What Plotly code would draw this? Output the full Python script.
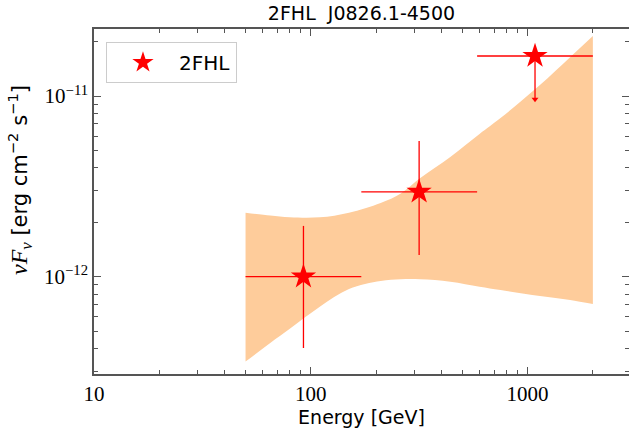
import plotly.graph_objects as go

# ---- data ----
e_center = [92.5, 316, 1082]
e_low = [50, 171, 585]
e_high = [171, 585, 2000]
flux = [1.0e-12, 2.95e-12, 1.665e-11]
flux_up = [1.91e-12, 5.64e-12, 1.665e-11]
flux_down = [4.03e-13, 1.32e-12, 9.6e-12]   # last = upper-limit arrow tip
is_ul = [False, False, True]

band_e = [50, 65, 80, 110, 150, 210, 260, 320, 440, 600, 750, 1140, 1570, 2000]
band_hi = [2.26e-12, 2.18e-12, 2.13e-12, 2.13e-12, 2.26e-12, 2.56e-12, 2.89e-12,
           3.52e-12, 4.60e-12, 6.16e-12, 7.55e-12, 1.15e-11, 1.64e-11, 2.15e-11]
band_lo = [3.39e-13, 4.30e-13, 5.15e-13, 6.82e-13, 8.55e-13, 9.47e-13, 9.67e-13,
           9.67e-13, 9.38e-13, 8.80e-13, 8.44e-13, 7.82e-13, 7.43e-13, 7.06e-13]

x_range_log = [1, 3.4677]
y_range_log = [-12.5385, -10.6292]
x_tickvals = [10, 100, 1000]
x_ticktext = ["10", "100", "1000"]
y_tickvals = [1e-12, 1e-11]
y_ticktext = ["10<sup>−12</sup>", "10<sup>−11</sup>"]

RED = "#ff0000"
BAND = "rgb(254,204,155)"
SPINE = "#555555"
SERIF = "Liberation Serif"
SANS = "DejaVu Sans"

fig = go.Figure()

# butterfly band (lower edge, then upper edge filled down to it)
fig.add_trace(go.Scatter(
    x=band_e, y=band_lo, mode="lines", line=dict(width=0, color=BAND, shape="spline", smoothing=1),
    showlegend=False, hoverinfo="skip"))
fig.add_trace(go.Scatter(
    x=band_e, y=band_hi, mode="lines", fill="tonexty", fillcolor=BAND,
    line=dict(width=0, color=BAND, shape="spline", smoothing=1),
    showlegend=False, hoverinfo="skip"))

# data points with error bars
err_plus = [0 if ul else u - f for f, u, ul in zip(flux, flux_up, is_ul)]
err_minus = [f - d for f, d in zip(flux, flux_down)]
fig.add_trace(go.Scatter(
    x=e_center, y=flux, mode="markers", name="2FHL",
    marker=dict(symbol="star", size=19, color=RED, line=dict(width=0)),
    error_x=dict(type="data", symmetric=False,
                 array=[h - c for h, c in zip(e_high, e_center)],
                 arrayminus=[c - l for c, l in zip(e_center, e_low)],
                 color=RED, thickness=1.3, width=0),
    error_y=dict(type="data", symmetric=False, array=err_plus,
                 arrayminus=err_minus, color=RED, thickness=1.3, width=0)))

# upper-limit arrow head
fig.add_trace(go.Scatter(
    x=[c for c, ul in zip(e_center, is_ul) if ul],
    y=[d for d, ul in zip(flux_down, is_ul) if ul],
    mode="markers", showlegend=False, hoverinfo="skip",
    marker=dict(symbol="triangle-down", size=6, color=RED, line=dict(width=0))))

# invisible trace for the mirrored axes
fig.add_trace(go.Scatter(x=[100], y=[1e-12], xaxis="x2", yaxis="y2",
                         mode="markers", marker=dict(opacity=0),
                         showlegend=False, hoverinfo="skip"))

common_axis = dict(type="log", showgrid=False, zeroline=False, ticks="inside",
                   tickcolor=SPINE, linecolor=SPINE, ticklen=7, tickwidth=1.2)

fig.update_layout(
    width=629, height=429,
    margin=dict(l=94, r=0, t=29, b=55),
    paper_bgcolor="white", plot_bgcolor="white",
    title=dict(text="2FHL  J0826.1-4500", x=0.5747, xanchor="center",
               y=1 - 13 / 429, yanchor="middle", yref="container",
               font=dict(family=SANS, size=19, color="black")),
    xaxis=dict(**common_axis, range=x_range_log, showline=True, linewidth=1.5,
               tickvals=x_tickvals, ticktext=x_ticktext,
               tickfont=dict(family=SERIF, size=21, color="black"),
               minor=dict(ticks="inside", ticklen=4, tickcolor=SPINE, dtick="D1"),
               title=dict(text="Energy [GeV]", standoff=5,
                          font=dict(family=SANS, size=19, color="black"))),
    yaxis=dict(**common_axis, range=y_range_log, showline=True, linewidth=1.5,
               tickvals=y_tickvals, ticktext=y_ticktext,
               tickfont=dict(family=SERIF, size=21, color="black"),
               minor=dict(ticks="inside", ticklen=4, tickcolor=SPINE, dtick="D1")),
    xaxis2=dict(**common_axis, range=x_range_log, overlaying="x", side="top",
                showline=True, linewidth=1.5, showticklabels=False,
                tickvals=x_tickvals,
                minor=dict(ticks="inside", ticklen=4, tickcolor=SPINE, dtick="D1")),
    yaxis2=dict(**common_axis, range=y_range_log, overlaying="y", side="right",
                showline=False, showticklabels=False, tickvals=y_tickvals,
                minor=dict(ticks="inside", ticklen=4, tickcolor=SPINE, dtick="D1")),
    legend=dict(x=0.0224, y=0.9623, xanchor="left", yanchor="top",
                bgcolor="white", bordercolor="#cccccc", borderwidth=1,
                font=dict(family=SANS, size=20, color="black"),
                itemwidth=62, itemsizing="trace"),
    annotations=[dict(
        text='<span style="font-family:Liberation Serif;font-style:italic;font-size:24px">νF<sub>ν</sub></span> [erg cm<sup>−2</sup> s<sup>−1</sup>]',
        x=-0.1383, y=0.5623, xref="paper", yref="paper", xanchor="center",
        yanchor="middle", textangle=-90, showarrow=False,
        font=dict(family=SANS, size=21, color="black"))],
)

fig.write_html("out.html")
